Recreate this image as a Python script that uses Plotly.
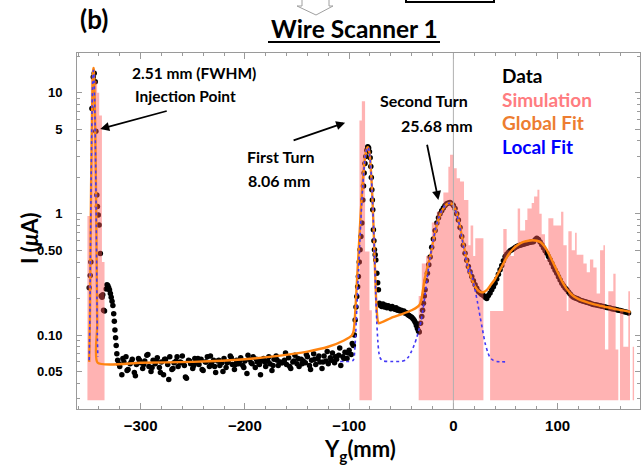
import plotly.graph_objects as go
import math

# ---------------- tick labels ----------------
x_tick_vals = [-300, -200, -100, 0, 100]
x_tick_text = ["\u2212300", "\u2212200", "\u2212100", "0", "100"]
y_tick_vals = [0.05, 0.1, 0.5, 1, 5, 10]
y_tick_text = ["0.05", "0.10", "0.50", "1", "5", "10"]
y_minor_vals = [0.03, 0.04, 0.06, 0.07, 0.08, 0.09, 0.2, 0.3, 0.4, 0.6, 0.7, 0.8, 0.9,
                2, 3, 4, 6, 7, 8, 9, 20]

# ---------------- measured data (black dots) ----------------
inj_x = [-349.3, -348.3, -347.7, -346.7, -345.4, -344.5, -343.5, -342.9, -342.0, -341.4,
         -340.6, -339.8, -338.6, -337.8, -337.0, -336.3, -335.5, -334.6, -333.0, -332.2,
         -331.4, -330.6, -329.8, -329.0, -328.2, -327.4, -326.6, -325.8, -325.2, -324.6,
         -324.0, -323.4, -322.8]
inj_y = [0.245, 0.31, 0.40, 7.4, 13.5, 14.5, 12.3, 4.8, 1.43, 1.15,
         0.98, 0.81, 0.47, 0.21, 0.205, 0.215, 0.16, 0.158, 0.24, 0.26,
         0.255, 0.245, 0.235, 0.22, 0.205, 0.19, 0.175, 0.15, 0.13, 0.11,
         0.095, 0.082, 0.07]

flat_x = [-322, -320, -318, -316, -314, -312, -310, -308, -306, -304,
          -302, -300, -298, -296, -294, -292, -290, -288, -286, -284,
          -282, -280, -278, -276, -274, -272, -270, -268, -266, -264,
          -262, -260, -258, -256, -254, -252, -250, -248, -246, -244,
          -242, -240, -238, -236, -234, -232, -230, -228, -226, -224,
          -222, -220, -218, -216, -214, -212, -210, -208, -206, -204,
          -202, -200, -198, -196, -194, -192, -190, -188, -186, -184,
          -182, -180, -178, -176, -174, -172, -170, -168, -166, -164,
          -162, -160, -158, -156, -154, -152, -150, -148, -146, -144,
          -142, -140, -138, -136, -134, -132, -130, -128, -126, -124,
          -122, -120, -118, -116, -114, -112, -110, -108, -106, -104,
          -102, -100, -98, -96]
flat_y = [0.062, 0.055, 0.047, 0.060, 0.066, 0.052, 0.058, 0.063, 0.049, 0.057,
          0.064, 0.059, 0.053, 0.061, 0.068, 0.055, 0.050, 0.062, 0.058, 0.065,
          0.054, 0.060, 0.047, 0.063, 0.057, 0.066, 0.052, 0.059, 0.061, 0.055,
          0.060, 0.067, 0.056, 0.044, 0.062, 0.058, 0.053, 0.064, 0.059, 0.057,
          0.063, 0.051, 0.060, 0.066, 0.055, 0.058, 0.062, 0.049, 0.061, 0.056,
          0.059, 0.064, 0.054, 0.060, 0.067, 0.057, 0.052, 0.062, 0.058, 0.065,
          0.056, 0.061, 0.048, 0.063, 0.059, 0.066, 0.054, 0.060, 0.057, 0.062,
          0.064, 0.055, 0.061, 0.058, 0.051, 0.063, 0.067, 0.056, 0.060, 0.059,
          0.062, 0.057, 0.065, 0.053, 0.060, 0.068, 0.058, 0.055, 0.063, 0.061,
          0.059, 0.066, 0.056, 0.062, 0.070, 0.057, 0.064, 0.060, 0.053, 0.067,
          0.061, 0.058, 0.065, 0.071, 0.059, 0.063, 0.068, 0.056, 0.066, 0.072,
          0.064, 0.075, 0.069, 0.082]
flat2_x = [-321, -317, -313, -309, -305, -301, -297, -293, -289, -285,
           -281, -277, -273, -269, -265, -261, -257, -253, -249, -245,
           -241, -237, -233, -229, -225, -221, -217, -213, -209, -205,
           -201, -197, -193, -189, -185, -181, -177, -173, -169, -165,
           -161, -157, -153, -149, -145, -141, -137, -133, -129, -125,
           -121, -117, -113, -109, -105, -101, -97]
flat2_y = [0.058, 0.064, 0.051, 0.060, 0.046, 0.062, 0.057, 0.069, 0.054, 0.061,
           0.049, 0.063, 0.043, 0.053, 0.066, 0.059, 0.045, 0.061, 0.056, 0.064,
           0.052, 0.060, 0.067, 0.055, 0.062, 0.050, 0.059, 0.065, 0.057, 0.061,
           0.054, 0.068, 0.058, 0.063, 0.047, 0.060, 0.066, 0.056, 0.062, 0.059,
           0.071, 0.055, 0.061, 0.064, 0.058, 0.069, 0.052, 0.063, 0.067, 0.060,
           0.073, 0.062, 0.066, 0.078, 0.064, 0.071, 0.085]

turn_x = [-95.0, -94.2, -93.4, -92.6, -91.8, -91.1, -90.3, -89.5, -88.7, -87.8,
          -86.9, -86.2, -85.6, -84.8, -84.0, -83.0, -82.1, -81.3, -80.5, -79.8,
          -79.2, -78.7, -78.2, -77.7, -77.3, -76.7, -76.2, -75.7, -75.0, -74.4,
          -73.4, -72.6, -71.9, -71.0,
          -70.0, -68.7, -67.5, -66.2, -65.0, -63.7, -62.5, -61.2, -60.0, -58.7,
          -57.5, -56.2, -55.0, -53.7, -52.5, -51.2, -50.0, -48.7, -47.5, -46.2,
          -45.0, -43.7, -42.5, -41.2, -40.0, -38.7, -37.5, -36.5, -35.5, -34.5,
          -33.5, -32.7,
          -31.5, -30.3, -29.5, -28.7, -27.9, -27.1, -26.0, -24.9, -23.6, -22.3,
          -20.8, -19.2, -17.5, -15.9, -14.3, -12.8, -11.2, -9.6, -8.0, -6.4,
          -4.8, -3.2, -1.6, 0.0, 1.6, 3.2, 4.8, 6.4, 8.0, 9.6,
          11.2, 12.8, 14.4, 16.0, 17.6, 19.2, 20.8, 22.4, 24.0, 25.6,
          27.2, 28.8, 30.4, 32.0, 33.6, 35.2, 36.8, 38.4, 40.0, 41.6,
          43.2, 44.8, 46.4, 48.0, 49.6, 51.2, 52.8, 54.4, 56.0, 57.6,
          59.2, 60.8, 62.4, 64.0, 65.6, 67.2, 68.8, 70.4, 72.0, 73.6,
          75.2, 76.8, 78.4, 80.0, 81.6, 83.2, 84.8, 86.4, 88.0, 89.6,
          91.2, 92.8, 94.4, 96.0, 97.6, 99.2, 100.8, 102.4, 104.0, 105.6,
          107.2, 108.8, 110.4, 112.0, 113.6, 115.2, 116.8, 118.4, 120.0, 121.6,
          123.2, 124.8, 126.4, 128.0, 129.6, 131.2, 132.8, 134.4, 136.0, 137.6,
          139.2, 140.8, 142.4, 144.0, 145.6, 147.2, 148.8, 150.4, 152.0, 153.6,
          155.2, 156.8, 158.4, 160.0, 161.6, 163.2, 164.8, 166.4, 168.0]
turn_y = [0.10, 0.133, 0.17, 0.208, 0.25, 0.304, 0.40, 0.505, 0.65, 0.84,
          1.30, 1.70, 2.17, 2.60, 2.97, 3.35, 3.59, 3.50, 3.26, 2.90,
          2.46, 2.00, 1.58, 1.30, 1.08, 0.74, 0.60, 0.505, 0.46, 0.417,
          0.324, 0.27, 0.236, 0.183,
          0.175, 0.172, 0.180, 0.170, 0.176, 0.168, 0.174, 0.170, 0.165, 0.172,
          0.166, 0.163, 0.168, 0.160, 0.163, 0.158, 0.160, 0.155, 0.158, 0.151,
          0.153, 0.147, 0.145, 0.142, 0.140, 0.136, 0.132, 0.127, 0.120, 0.113,
          0.108, 0.106,
          0.125, 0.142, 0.160, 0.183, 0.210, 0.236, 0.280, 0.324, 0.380, 0.440,
          0.530, 0.620, 0.730, 0.840, 0.930, 1.00, 1.06, 1.12, 1.17, 1.21,
          1.23, 1.24, 1.22, 1.17, 1.11, 1.00, 0.89, 0.77, 0.65, 0.55,
          0.474, 0.415, 0.368, 0.333, 0.304, 0.280, 0.260, 0.243, 0.229, 0.222,
          0.216, 0.212, 0.205, 0.200, 0.212, 0.222, 0.236, 0.250, 0.268, 0.290,
          0.318, 0.345, 0.375, 0.410, 0.444, 0.465, 0.480, 0.495, 0.505, 0.515,
          0.528, 0.537, 0.545, 0.550, 0.555, 0.560, 0.567, 0.573, 0.578, 0.583,
          0.587, 0.590, 0.610, 0.630, 0.615, 0.585, 0.555, 0.525, 0.495, 0.474,
          0.445, 0.418, 0.392, 0.365, 0.343, 0.324, 0.303, 0.284, 0.268, 0.255,
          0.244, 0.236, 0.226, 0.218, 0.210, 0.205, 0.202, 0.200, 0.197, 0.194,
          0.192, 0.190, 0.188, 0.186, 0.185, 0.183, 0.180, 0.179, 0.178, 0.177,
          0.175, 0.174, 0.173, 0.172, 0.170, 0.169, 0.168, 0.167, 0.165, 0.164,
          0.163, 0.162, 0.160, 0.159, 0.158, 0.156, 0.155, 0.154, 0.152]

# ---------------- simulation histogram (bin edges, heights) ----------------
sim_lo = [-351.0, -347.7, -345.7, -343.7, -341.7, -339.7, -337.1,
          -90.1, -87.8, -84.7, -82.6, -80.5,
          -33.3, -30.3, -26.2, -20.7, -15.9, -9.6, -4.8, -3.2, 0.6, 3.2, 6.4, 10.2, 14.4, 16.5, 19.0, 21.0,
          35.2, 47.9, 51.1, 55.0, 58.0, 61.7, 64.0, 68.8, 71.0, 75.1, 77.4, 80.6, 82.5, 84.7, 87.9,
          91.1, 95.9, 103.3, 105.5, 108.7, 110.3, 113.5, 116.7, 118.3, 124.7, 127.9, 131.0, 134.2,
          137.4, 140.7, 143.9, 145.4, 148.6, 153.4, 155.6,
          159.8, 163.0, 167.8, 172.0]
sim_hi = [-347.7, -345.7, -343.7, -341.7, -339.7, -337.1, -334.6,
          -87.8, -84.7, -82.6, -80.5, -78.2,
          -30.3, -26.2, -20.7, -15.9, -9.6, -4.8, -3.2, 0.6, 3.2, 6.4, 10.2, 14.4, 16.5, 19.0, 21.0, 28.8,
          47.9, 51.1, 55.0, 58.0, 61.7, 64.0, 68.8, 71.0, 75.1, 77.4, 80.6, 82.5, 84.7, 87.9, 91.1,
          95.9, 103.3, 105.5, 108.7, 110.3, 113.5, 116.7, 118.3, 124.7, 127.9, 131.0, 134.2, 137.4,
          140.7, 143.9, 145.4, 148.6, 153.4, 155.6, 158.2,
          163.0, 167.8, 169.4, 173.3]
sim_val = [0.96, 13.0, 15.0, 12.5, 10.0, 6.5, 0.40,
           5.9, 8.5, 0.49, 0.49, 0.16,
           0.21, 0.39, 0.45, 0.85, 1.04, 1.5, 2.45, 3.07, 2.38, 1.97, 1.85, 1.3, 0.55, 0.8, 0.45, 0.63,
           0.158, 0.75, 0.5, 0.45, 0.55, 1.11, 0.73, 0.89, 1.11, 1.23, 1.39, 1.58, 1.0, 0.68, 0.42,
           0.92, 0.8, 1.04, 0.55, 0.158, 0.72, 0.5, 0.7, 0.46, 0.39, 0.33, 0.42, 0.36,
           0.22, 0.5, 0.55, 0.076, 0.23, 0.32, 0.076,
           0.16, 0.08, 0.23, 0.08]
hist_base = 0.029

# ---------------- global fit (orange) ----------------
gfit_x = [-349.3, -348.5, -348.0, -347.5, -347.0, -346.5, -346.0, -345.5, -345.2, -344.9,
          -344.5, -344.0, -343.5, -343.0, -342.5, -342.0, -341.6, -341.2,
          -300.0, -250.0, -200.0, -170.0, -140.0, -120.0, -105.0, -97.0, -95.5,
          -94.0, -93.0, -92.0, -91.0, -90.0, -89.0, -88.0, -87.0, -86.0, -85.0, -84.0, -83.0,
          -82.2, -81.5, -80.5, -79.5, -78.5, -77.5, -76.5, -75.5, -74.5, -73.5, -72.5, -71.5,
          -60.0, -50.0, -40.0, -34.0, -32.0, -30.5, -29.0, -27.5, -26.0, -24.0, -22.0, -20.0,
          -17.0, -14.0, -11.0, -8.0, -5.0, -3.0, -1.0, 1.0, 3.0, 5.0, 7.0, 9.0, 11.0, 13.0,
          15.0, 17.0, 19.0, 21.0, 24.0, 27.0, 30.0, 33.0, 36.0, 40.0, 44.0, 48.0, 52.0, 56.0,
          60.0, 64.0, 68.0, 72.0, 76.0, 80.0, 84.0, 88.0, 92.0, 96.0, 100.0, 104.0, 108.0,
          112.0, 116.0, 120.0, 125.0, 130.0, 135.0, 140.0, 145.0, 150.0, 155.0, 160.0, 165.0,
          170.0]
gfit_y = [0.06, 0.16, 0.55, 1.6, 3.8, 7.5, 11.8, 15.2, 16.0, 15.6,
          12.8, 8.9, 5.0, 2.3, 0.9, 0.28, 0.12, 0.059,
          0.059, 0.06, 0.063, 0.067, 0.073, 0.08, 0.09, 0.10, 0.11,
          0.16, 0.23, 0.33, 0.47, 0.68, 0.97, 1.35, 1.8, 2.3, 2.8, 3.2, 3.45,
          3.55, 3.5, 3.2, 2.6, 1.9, 1.25, 0.75, 0.42, 0.24, 0.16, 0.13, 0.125,
          0.138, 0.148, 0.16, 0.172, 0.18, 0.20, 0.24, 0.29, 0.33, 0.39, 0.45, 0.56,
          0.74, 0.92, 1.06, 1.16, 1.22, 1.23, 1.2, 1.13, 1.02, 0.88, 0.74, 0.60, 0.49, 0.40,
          0.34, 0.30, 0.27, 0.25, 0.232, 0.225, 0.228, 0.24, 0.26, 0.29, 0.335, 0.39, 0.45, 0.50,
          0.54, 0.57, 0.59, 0.60, 0.605, 0.60, 0.58, 0.53, 0.46, 0.39, 0.33, 0.28, 0.245,
          0.222, 0.207, 0.198, 0.19, 0.184, 0.179, 0.175, 0.171, 0.168, 0.164, 0.161, 0.158,
          0.155]

# ---------------- local fits (blue dashed) ----------------
lfit1_x = [-349.3, -348.5, -348.0, -347.5, -347.0, -346.5, -346.0, -345.5, -345.2, -344.9,
           -344.5, -344.0, -343.5, -343.0, -342.5, -342.0, -341.5, -341.0]
lfit1_y = [0.062, 0.17, 0.6, 1.7, 4.0, 7.8, 12.0, 14.8, 15.3, 14.9,
           12.3, 8.4, 4.6, 2.1, 0.8, 0.26, 0.1, 0.066]
lfit2_x = [-108.6, -100.0, -96.0, -95.0, -94.0, -93.0, -92.0, -91.0, -90.0, -89.0, -88.0,
           -87.0, -86.0, -85.0, -84.0, -83.0, -82.2, -81.5, -80.5, -79.5, -78.5, -77.5,
           -76.5, -75.5, -74.5, -73.5, -72.5, -71.5, -70.0, -67.0, -60.0, -50.0, -46.0,
           -43.0, -40.0, -37.0, -35.0, -33.5, -31.0, -29.0, -27.0, -25.0, -23.0, -21.0,
           -19.0, -17.0, -14.0, -11.0, -8.0, -5.0, -3.0, -1.0, 1.0, 3.0, 5.0, 7.0, 9.0,
           11.0, 13.0, 15.0, 16.0, 18.4, 20.8, 23.2, 25.6, 28.0, 30.4, 32.8, 35.2, 38.0,
           41.6, 49.6]
lfit2_y = [0.0605, 0.0605, 0.062, 0.068, 0.09, 0.14, 0.22, 0.34, 0.52, 0.8, 1.18,
           1.65, 2.2, 2.75, 3.15, 3.45, 3.55, 3.5, 3.2, 2.6, 1.9, 1.25,
           0.75, 0.42, 0.22, 0.13, 0.09, 0.072, 0.064, 0.061, 0.0605, 0.0605, 0.062,
           0.066, 0.074, 0.085, 0.096, 0.107, 0.13, 0.165, 0.22, 0.30, 0.40, 0.51,
           0.63, 0.76, 0.93, 1.07, 1.17, 1.22, 1.23, 1.2, 1.12, 1.0, 0.87, 0.72, 0.58,
           0.47, 0.39, 0.33, 0.36, 0.29, 0.236, 0.185, 0.142, 0.11, 0.086, 0.073, 0.065, 0.062,
           0.0605, 0.06]

# ---------------- figure geometry ----------------
W, H = 644, 469
ML, MR, MT, MB = 77, 4, 53, 60
PW, PH = W - ML - MR, H - MT - MB


def pxx(px):
    return (px - ML) / PW


def pxy(py):
    return (H - MB - py) / PH


data_x = inj_x + flat_x + flat2_x + turn_x
data_y = inj_y + flat_y + flat2_y + turn_y

# histogram as filled step polygons (drawn over the dots, semi-transparent)
hx, hy = [], []
prev = None
for lo, hi, v in zip(sim_lo, sim_hi, sim_val):
    if prev is None or abs(lo - prev) > 1e-9:
        if prev is not None:
            hx += [prev, None]
            hy += [hist_base, None]
        hx.append(lo)
        hy.append(hist_base)
    hx += [lo, hi]
    hy += [v, v]
    prev = hi
hx.append(prev)
hy.append(hist_base)

fig = go.Figure()
fig.add_trace(go.Scatter(x=data_x, y=data_y, mode="markers",
                         marker=dict(color="black", size=5.5, line=dict(width=0)),
                         hoverinfo="skip", showlegend=False))
fig.add_trace(go.Scatter(x=hx, y=hy, mode="lines", fill="toself",
                         fillcolor="rgba(255,86,86,0.45)", line=dict(width=0),
                         hoverinfo="skip", showlegend=False))
fig.add_trace(go.Scatter(x=gfit_x, y=gfit_y, mode="lines",
                         line=dict(color="#FF8410", width=2.4, shape="spline", smoothing=0.6),
                         hoverinfo="skip", showlegend=False))
fig.add_trace(go.Scatter(x=lfit1_x, y=lfit1_y, mode="lines",
                         line=dict(color="#4438F5", width=1.6, dash="3px,3px", shape="spline", smoothing=0.6),
                         hoverinfo="skip", showlegend=False))
fig.add_trace(go.Scatter(x=lfit2_x, y=lfit2_y, mode="lines",
                         line=dict(color="#4438F5", width=1.6, dash="3px,3px", shape="spline", smoothing=0.6),
                         hoverinfo="skip", showlegend=False))

TXT = "Lato"
ann = []


def label(text, px, py, size, color="black", xanchor="left"):
    ann.append(dict(text=text, x=pxx(px), y=pxy(py), xref="paper", yref="paper",
                    xanchor=xanchor, yanchor="middle", showarrow=False,
                    font=dict(family=TXT, size=size, color=color, weight="bold")))


def arrow(x_head, v_head, x_tail, v_tail):
    ann.append(dict(text="", x=x_head, y=math.log10(v_head), ax=x_tail, ay=math.log10(v_tail),
                    xref="x", yref="y", axref="x", ayref="y", showarrow=True,
                    arrowhead=2, arrowsize=1.0, arrowwidth=1.8, arrowcolor="black"))


label("(b)", 78, 19, 26)
label("Wire Scanner 1", 354, 28, 24.5, xanchor="center")
label("2.51 mm (FWHM)", 130, 73, 15.5)
label("Injection Point", 133, 96, 15.5)
label("First Turn", 317, 156, 16, xanchor="right")
label("8.06 mm", 312, 180, 16, xanchor="right")
label("Second Turn", 423.5, 100, 16, xanchor="center")
label("25.68 mm", 436.5, 125, 16, xanchor="center")
label("Data", 500, 75, 19, "black")
label("Simulation", 500, 99, 19, "#FF7C80")
label("Global Fit", 500, 122.5, 19, "#ED7D31")
label("Local Fit", 500, 146.7, 19, "#0000FF")
ann.append(dict(text="I (<i>\u03bc</i>A)", x=pxx(29), y=pxy(238), xref="paper", yref="paper",
                textangle=-90, showarrow=False, xanchor="center", yanchor="middle",
                font=dict(family=TXT, size=22, color="black", weight="bold")))
ann.append(dict(text="Y<sub>g</sub>(mm)", x=pxx(360), y=pxy(450), xref="paper", yref="paper",
                showarrow=False, xanchor="center", yanchor="middle",
                font=dict(family=TXT, size=22, color="black", weight="bold")))

arrow(-338.7, 5.03, -273.5, 7.12)
arrow(-103.8, 10 ** 0.753, -154.7, 10 ** 0.602)
arrow(-14.4, 10 ** 0.1155, -25.5, 10 ** 0.583)

shapes = [
    dict(type="line", xref="x", yref="paper", x0=0, x1=0, y0=0, y1=1,
         line=dict(color="#B0B0B0", width=1), layer="above"),
    # title underline
    dict(type="line", xref="paper", yref="paper", x0=pxx(268), x1=pxx(440), y0=pxy(42), y1=pxy(42),
         line=dict(color="black", width=2)),
    # cropped decorations at top edge
    dict(type="path", xref="paper", yref="paper",
         path=f"M {pxx(302)} {pxy(0)} L {pxx(302)} {pxy(6)} L {pxx(297)} {pxy(6)} L {pxx(316)} {pxy(15)} "
              f"L {pxx(333)} {pxy(6)} L {pxx(329)} {pxy(6)} L {pxx(329)} {pxy(0)}",
         line=dict(color="#A0A0A0", width=1)),
    dict(type="path", xref="paper", yref="paper",
         path=f"M {pxx(406)} {pxy(-2)} L {pxx(406)} {pxy(2)} L {pxx(494)} {pxy(2)} L {pxx(494)} {pxy(-2)}",
         line=dict(color="black", width=2)),
]

axis_common = dict(showgrid=False, zeroline=False, showline=True, linecolor="#9A9A9A", linewidth=1,
                   mirror="ticks", ticks="inside", tickcolor="#9A9A9A", tickwidth=1)

fig.update_layout(
    width=W, height=H, margin=dict(l=ML, r=MR, t=MT, b=MB),
    paper_bgcolor="white", plot_bgcolor="white", showlegend=False,
    xaxis=dict(range=[-361, 179], tickmode="array", tickvals=x_tick_vals, ticktext=x_tick_text,
               ticklen=6, ticklabelstandoff=3,
               tickfont=dict(family="Liberation Sans", size=15, color="black", weight="bold"),
               minor=dict(dtick=20, tick0=0, ticks="inside", ticklen=3, tickcolor="#9A9A9A"),
               **axis_common),
    yaxis=dict(type="log", range=[math.log10(0.0245), 1.328], tickmode="array",
               tickvals=y_tick_vals, ticktext=y_tick_text, ticklen=5, ticklabelstandoff=11,
               tickfont=dict(family="Liberation Sans", size=13, color="black", weight="bold"),
               minor=dict(tickmode="array", tickvals=y_minor_vals, ticks="inside", ticklen=3,
                          tickcolor="#9A9A9A"),
               **axis_common),
    annotations=ann, shapes=shapes,
)

fig.write_html("out.html", config={"displayModeBar": False},
               post_script="document.body.style.margin='0px';document.body.style.padding='0px';")
